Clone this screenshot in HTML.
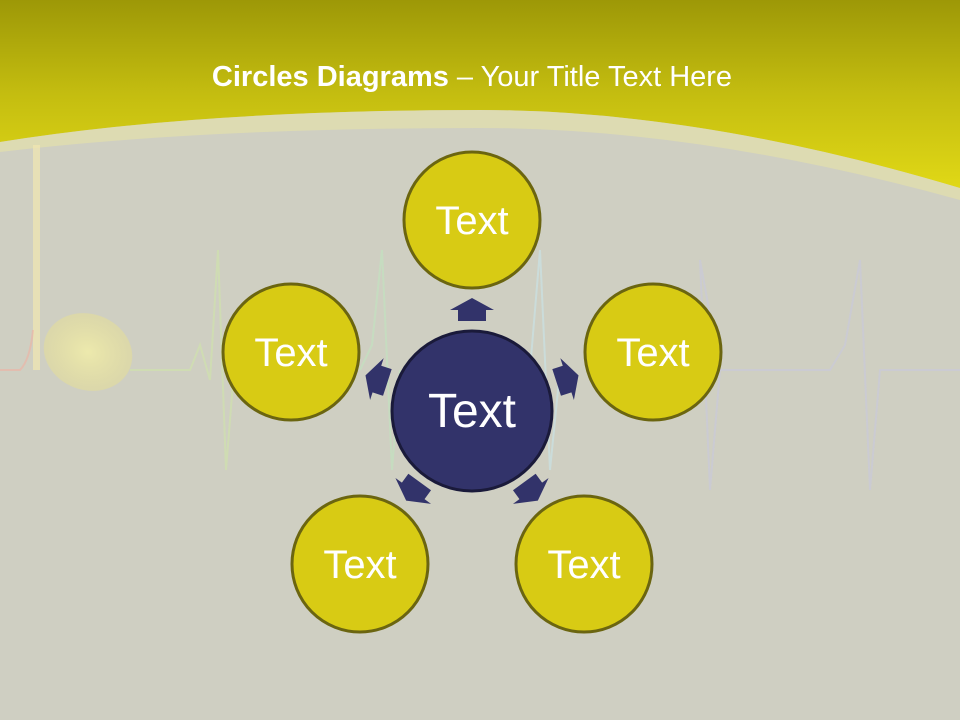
<!DOCTYPE html>
<html><head><meta charset="utf-8"><style>html,body{margin:0;padding:0;background:#cfcfc2}svg{display:block}</style></head>
<body>
<svg width="960" height="720" viewBox="0 0 960 720" xmlns="http://www.w3.org/2000/svg">
<defs>
<linearGradient id="hg" x1="0" y1="0" x2="0" y2="1">
<stop offset="0" stop-color="#9d9807"/><stop offset="0.5" stop-color="#c4bd10"/><stop offset="1" stop-color="#e0d816"/>
</linearGradient>
<radialGradient id="egg" cx="0.5" cy="0.5" r="0.5"><stop offset="0" stop-color="#f4f0a8"/><stop offset="1" stop-color="#e8e090" stop-opacity="0.6"/></radialGradient>
</defs>
<rect width="960" height="720" fill="#cfcfc2"/>
<path d="M0 0H960V188Q700 110 480 110Q200 110 0 142Z" fill="url(#hg)"/>
<path d="M0 142Q200 110 480 110Q700 110 960 188V200Q700 128 480 128Q200 128 0 152Z" fill="#e6e2a6" opacity="0.6"/>
<rect x="33" y="145" width="7" height="225" fill="#f1e7b0" opacity="0.7"/>
<ellipse cx="88" cy="352" rx="45" ry="38" fill="url(#egg)" opacity="0.8" transform="rotate(20 88 352)"/>
<g fill="none" stroke-width="2" opacity="0.55">
<path d="M0 370H20Q30 360 33 330" stroke="#f2b0a0"/>
<path d="M130 370H190L200 345L210 380L218 250L226 470L234 370L300 370" stroke="#cfe8a8"/>
<path d="M360 370L372 345L382 250L392 470L400 370" stroke="#c0e8c0"/>
<path d="M530 370L540 250L550 470L560 370" stroke="#c8e8ee"/>
<path d="M720 370L700 260L710 490L720 370H830L845 345L860 260L870 490L880 370H960" stroke="#c8c8e0"/>
</g>
<text x="472" y="86" text-anchor="middle" font-family="Liberation Sans, sans-serif" font-size="29" fill="#fff"><tspan font-weight="bold">Circles Diagrams</tspan> – Your Title Text Here</text>
<g fill="#32336a">
<polygon id="ar" points="472,298 494,310 486,310 486,321 458,321 458,310 450,310"/>
<use href="#ar" transform="rotate(-72 472 410)"/>
<use href="#ar" transform="rotate(72 472 410)"/>
<use href="#ar" transform="rotate(-144 472 410)"/>
<use href="#ar" transform="rotate(144 472 410)"/>
</g>
<g fill="#d8cb14" stroke="#6b6510" stroke-width="3">
<circle cx="472" cy="220" r="68"/>
<circle cx="291" cy="352" r="68"/>
<circle cx="653" cy="352" r="68"/>
<circle cx="360" cy="564" r="68"/>
<circle cx="584" cy="564" r="68"/>
</g>
<circle cx="472" cy="411" r="80" fill="#32336a" stroke="#1a1a3a" stroke-width="3"/>
<g font-family="Liberation Sans, sans-serif" fill="#fff" text-anchor="middle" font-size="40">
<text x="472" y="234">Text</text>
<text x="291" y="366">Text</text>
<text x="653" y="366">Text</text>
<text x="360" y="578">Text</text>
<text x="584" y="578">Text</text>
<text x="472" y="427" font-size="48">Text</text>
</g>
</svg>
</body></html>
